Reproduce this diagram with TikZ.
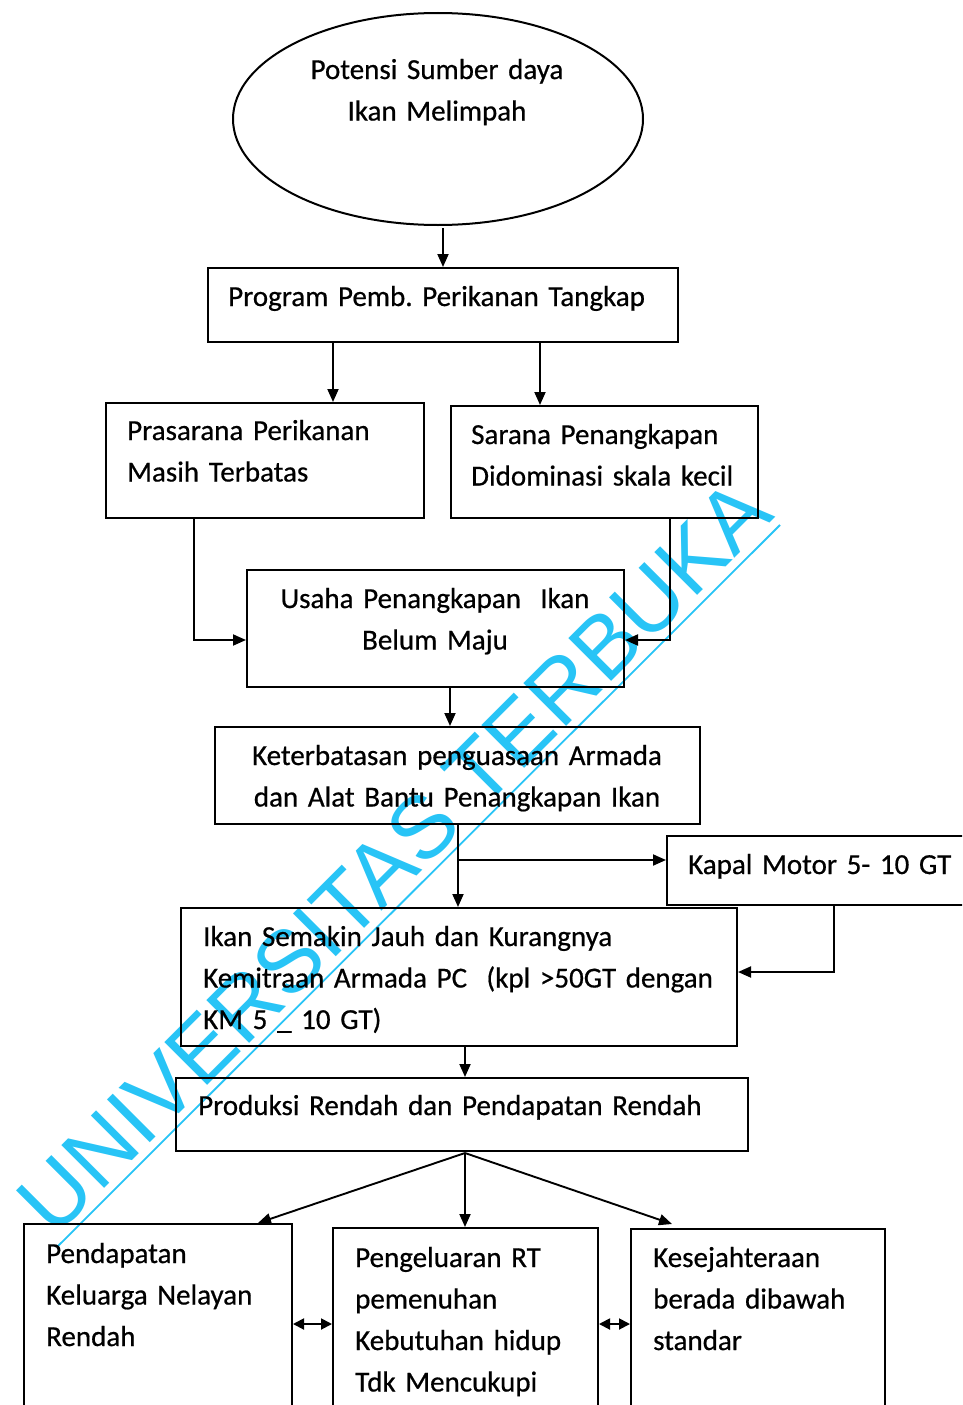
\documentclass[tikz,border=0pt]{standalone}
\usepackage{fontspec}
\setmainfont[FakeBold=0.6]{Carlito}
\newfontfamily\wmfont{Liberation Sans}
\usetikzlibrary{shapes.geometric,arrows.meta}
\definecolor{wmcol}{RGB}{40,196,246}
\frenchspacing
\begin{document}
\begin{tikzpicture}[x=1pt,y=-1pt,
  box/.style={draw, line width=2pt, inner sep=0pt, rectangle},
  arr/.style={line width=1.9pt, -{Triangle[length=13pt,width=11pt]}},
  darr/.style={line width=1.9pt, {Triangle[length=11pt,width=11pt]}-{Triangle[length=11pt,width=11pt]}},
  txt/.style={inner sep=0pt, font=\fontsize{29}{41.5}\selectfont},
  txl/.style={txt, anchor=base west, text width=#1, align=left},
  txc/.style={txt, anchor=base, text width=#1, align=center},
  wmtext/.style={inner sep=0pt, text=wmcol, font=\wmfont\fontsize{88}{88}\selectfont},
  wmline/.style={draw=wmcol, line width=1.8pt}
]
\useasboundingbox (0,0) rectangle (962,1405);
\clip (0,0) rectangle (962,1405);

% watermark
\node[wmtext, rotate=45, anchor=base] (wm) at (415,878) {UNIVERSITAS TERBUKA};
\coordinate (wma) at (57,1247);
\coordinate (wmb) at (780,525);
\draw[wmline] (wma) -- (wmb);

% ellipse
\node[draw, ellipse, line width=2pt, minimum width=410pt, minimum height=212pt, inner sep=0pt] (e) at (438,119) {};
\node[txc=340pt] (et) at (437,79) {Potensi Sumber daya\\Ikan Melimpah};

% boxes
\node[box, minimum width=470pt, minimum height=74pt] (b1) at (443,305) {};
\node[txl=440pt] (t1) at (228,306) {Program Pemb. Perikanan Tangkap};

\node[box, minimum width=318pt, minimum height=115pt] (b2) at (265,460.5) {};
\node[txl=290pt] (t2) at (127,440) {Prasarana Perikanan\\Masih Terbatas};

\node[box, minimum width=307pt, minimum height=112pt] (b3) at (604.5,462) {};
\node[txl=285pt] (t3) at (471,444) {Sarana Penangkapan\\Didominasi skala kecil};

\node[box, minimum width=377pt, minimum height=117pt] (b4) at (435.5,628.5) {};
\node[txc=360pt] (t4) at (435,608) {Usaha Penangkapan\ \ Ikan\\Belum Maju};

\node[box, minimum width=485pt, minimum height=97pt] (b5) at (457.5,775.5) {};
\node[txc=470pt] (t5) at (457,765) {Keterbatasan penguasaan Armada\\dan Alat Bantu Penangkapan Ikan};

\node[box, minimum width=308pt, minimum height=69pt] (bk) at (821,870.5) {};
\node[txl=280pt] (tk) at (688,874) {Kapal Motor 5- 10 GT};

\node[box, minimum width=556pt, minimum height=138pt] (b6) at (459,977) {};
\node[txl=530pt] (t6) at (203,946) {Ikan Semakin Jauh dan Kurangnya\\Kemitraan Armada PC\ \ (kpl >50GT dengan\\KM 5 \_ 10 GT)};

\node[box, minimum width=572pt, minimum height=73pt] (b7) at (462,1114.5) {};
\node[txl=540pt] (t7) at (198,1115) {Produksi Rendah dan Pendapatan Rendah};

\node[box, minimum width=268pt, minimum height=206pt] (b8) at (158,1327) {};
\node[txl=240pt] (t8) at (46,1263) {Pendapatan\\Keluarga Nelayan\\Rendah};

\node[box, minimum width=265pt, minimum height=202pt] (b9) at (465.5,1329) {};
\node[txl=240pt] (t9) at (355,1267) {Pengeluaran RT\\pemenuhan\\Kebutuhan hidup\\Tdk Mencukupi};

\node[box, minimum width=254pt, minimum height=201pt] (b10) at (758,1329.5) {};
\node[txl=230pt] (t10) at (653,1267) {Kesejahteraan\\berada dibawah\\standar};

% connectors
\draw[arr] (443,228) -- (443,0 |- b1.north);
\draw[arr] (333,0 |- b1.south) -- (333,0 |- b2.north);
\draw[arr] (540,0 |- b1.south) -- (540,0 |- b3.north);
\draw[arr] (194,0 |- b2.south) |- (b4.west |- 0,640);
\draw[arr] (670,0 |- b3.south) |- (b4.east |- 0,640);
\draw[arr] (450,0 |- b4.south) -- (450,0 |- b5.north);
\draw[arr] (458,0 |- b5.south) -- (458,0 |- b6.north);
\coordinate (j) at (458,860);
\draw[arr] (j) -- (bk.west |- j);
\draw[arr] (834,0 |- bk.south) |- (b6.east |- 0,972);
\draw[arr] (465,0 |- b6.south) -- (465,0 |- b7.north);
\coordinate (s) at (465,1153);
\draw[arr] (s) -- (258,0 |- b8.north);
\draw[arr] (s) -- (465,0 |- b9.north);
\draw[arr] (s) -- (672,1224);
\draw[darr] (b8.east |- 0,1324) -- (b9.west |- 0,1324);
\draw[darr] (b9.east |- 0,1324) -- (b10.west |- 0,1324);
\end{tikzpicture}
\end{document}
